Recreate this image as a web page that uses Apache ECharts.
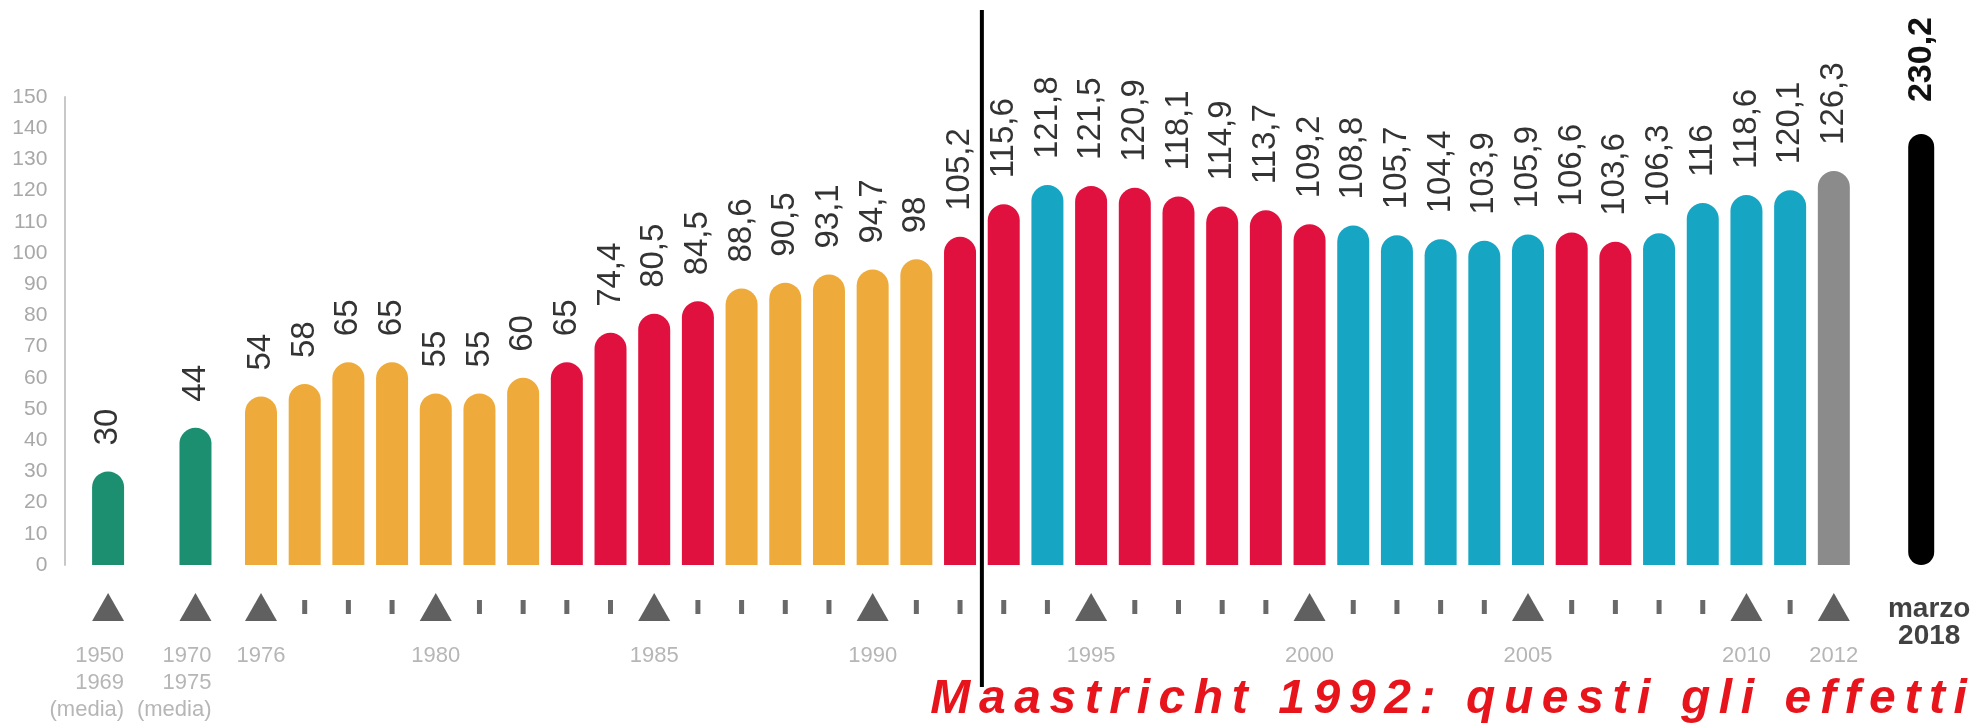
<!DOCTYPE html>
<html>
<head>
<meta charset="utf-8">
<script src="https://cdn.jsdelivr.net/npm/echarts@6/dist/echarts.min.js"></script>
<style>
html,body{margin:0;padding:0;background:#fff;}
#chart{width:1976px;height:726px;}
</style>
</head>
<body>
<div id="chart"></div>
<script>
// ---------------- DATA ----------------
const periods = ['1950\n1969\n(media)', '1970\n1975\n(media)',
  '1976', '1977', '1978', '1979', '1980', '1981', '1982', '1983', '1984', '1985',
  '1986', '1987', '1988', '1989', '1990', '1991', '1992', '1993', '1994', '1995',
  '1996', '1997', '1998', '1999', '2000', '2001', '2002', '2003', '2004', '2005',
  '2006', '2007', '2008', '2009', '2010', '2011', '2012', 'marzo\n2018'];

const debtToGdp = [30, 44,
  54, 58, 65, 65, 55, 55, 60, 65, 74.4, 80.5,
  84.5, 88.6, 90.5, 93.1, 94.7, 98, 105.2, 115.6, 121.8, 121.5,
  120.9, 118.1, 114.9, 113.7, 109.2, 108.8, 105.7, 104.4, 103.9, 105.9,
  106.6, 103.6, 106.3, 116, 118.6, 120.1, 126.3, 230.2];

const colorGroup = ['verde', 'verde',
  'arancio', 'arancio', 'arancio', 'arancio', 'arancio', 'arancio', 'arancio', 'rosso', 'rosso', 'rosso',
  'rosso', 'arancio', 'arancio', 'arancio', 'arancio', 'arancio', 'rosso', 'rosso', 'ciano', 'rosso',
  'rosso', 'rosso', 'rosso', 'rosso', 'rosso', 'ciano', 'ciano', 'ciano', 'ciano', 'ciano',
  'rosso', 'rosso', 'ciano', 'ciano', 'ciano', 'ciano', 'grigio', 'nero'];

const majorTicks = ['1950\n1969\n(media)', '1970\n1975\n(media)', '1976', '1980', '1985',
  '1990', '1995', '2000', '2005', '2010', '2012'];

const maastrichtYear = '1992';
const titleText = 'Maastricht 1992: questi gli effetti';
const yMax = 150, yStep = 10;

// ---------------- LAYOUT / STYLE ----------------
const palette = {verde:'#1b8f6f', arancio:'#eeab3b', rosso:'#e1113f', ciano:'#16a6c4', grigio:'#8b8b8b', nero:'#000000'};
const specialPos = {'1950\n1969\n(media)': -3.5, '1970\n1975\n(media)': -1.5, 'marzo\n2018': 38};
function posOf(p){ return (p in specialPos) ? specialPos[p] : Number(p) - 1976; }
const X_MIN = -4.5, X_MAX = 39;
const GRID_LEFT = 64.4, GRID_RIGHT = 11.1;
const sans = '"Liberation Sans", Arial, sans-serif';
const fmt = v => String(v).replace('.', ',');

const mainBars = [], lastBar = [], markers = [];
periods.forEach((p, i) => {
  const g = colorGroup[i];
  const item = {value: [posOf(p), debtToGdp[i]], itemStyle: {color: palette[g]}};
  if (g === 'nero') lastBar.push(item); else mainBars.push(item);
  if (p === 'marzo\n2018') {
    markers.push({value: [posOf(p), 0.5], symbol: 'rect', symbolSize: 1,
      itemStyle: {color: 'rgba(0,0,0,0)'},
      label: {show: true, position: 'inside', formatter: p, offset: [8, 16],
        fontFamily: sans, fontWeight: 'bold', fontSize: 28,
        lineHeight: 27, color: '#111111'}});
    return;
  }
  const major = majorTicks.indexOf(p) >= 0;
  const multi = p.indexOf('\n') >= 0;
  markers.push({
    value: [posOf(p), 0.5],
    symbol: major ? 'triangle' : 'rect',
    symbolSize: major ? [32, 28] : [5, 14],
    itemStyle: {color: major ? '#383838' : '#444444'},
    label: {show: major, formatter: p, position: 'bottom', distance: 21,
      align: multi ? 'right' : 'center', offset: multi ? [16, 0] : [0, 0],
      fontFamily: sans, fontSize: 22, lineHeight: 27, color: '#a4a4a4'}
  });
});

const rich = {c: {fontFamily: sans, fontSize: 48, fontWeight: 'bold',
  fontStyle: 'italic', color: '#e8141c', lineHeight: 48, padding: [0, 4.3]}};
const richTitle = titleText.split('').map(ch => '{c|' + ch + '}').join('');

const chart = echarts.init(document.getElementById('chart'), null, {renderer: 'canvas'});
const hiddenX = gi => ({type: 'value', gridIndex: gi, min: X_MIN, max: X_MAX, show: false});

chart.setOption({
  animation: false,
  backgroundColor: '#ffffff',
  title: {text: richTitle, left: 926, top: 676, padding: 0, textStyle: {rich: rich}},
  grid: [
    {left: GRID_LEFT, right: GRID_RIGHT, top: 97, bottom: 161},
    {left: GRID_LEFT, right: GRID_RIGHT, top: 585, height: 44}
  ],
  xAxis: [hiddenX(0), hiddenX(0), hiddenX(1)],
  yAxis: [
    {type: 'value', gridIndex: 0, min: 0, max: yMax, interval: yStep,
      axisLine: {show: true, onZero: false, lineStyle: {color: '#c8c8c8', width: 2}},
      axisTick: {show: false}, splitLine: {show: false},
      axisLabel: {fontFamily: sans, fontSize: 21, color: '#a8a8a8', margin: 17}},
    {type: 'value', gridIndex: 0, min: 0, max: 250, show: false},
    {type: 'value', gridIndex: 1, min: 0, max: 1, show: false}
  ],
  series: [
    {type: 'bar', xAxisIndex: 0, yAxisIndex: 0, barWidth: 32, data: mainBars,
      itemStyle: {borderRadius: [16, 16, 0, 0]},
      label: {show: true, position: 'top', rotate: 90, align: 'left', verticalAlign: 'middle',
        distance: 26, fontFamily: sans, fontSize: 33, color: '#333333',
        formatter: pr => fmt(pr.value[1])}},
    {type: 'bar', xAxisIndex: 1, yAxisIndex: 1, barWidth: 26, data: lastBar,
      itemStyle: {borderRadius: 13},
      label: {show: true, position: 'top', rotate: 90, align: 'left', verticalAlign: 'middle',
        distance: 32, fontFamily: sans, fontSize: 34, fontWeight: 'bold',
        color: '#111111', formatter: pr => fmt(pr.value[1])}},
    {type: 'scatter', xAxisIndex: 2, yAxisIndex: 2, clip: false, data: markers, silent: true}
  ]
});

// Maastricht divider, placed through the x scale between 1992 and 1993
const mx = chart.convertToPixel({xAxisIndex: 0}, posOf(maastrichtYear) + 0.5);
chart.setOption({graphic: [{type: 'line', z: 100,
  shape: {x1: mx, y1: 10, x2: mx, y2: 687}, style: {stroke: '#000', lineWidth: 4}}]});
</script>
</body>
</html>
